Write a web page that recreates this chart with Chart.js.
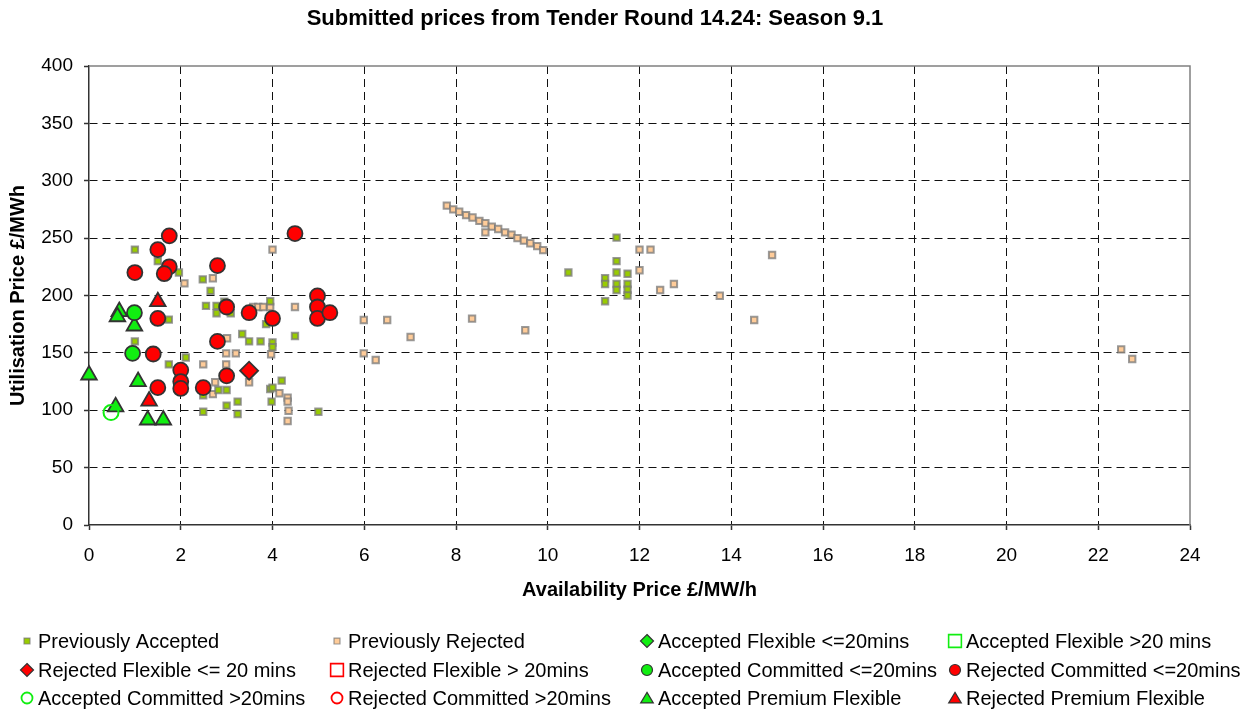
<!DOCTYPE html>
<html>
<head>
<meta charset="utf-8">
<script src="https://cdn.jsdelivr.net/npm/chart.js@4/dist/chart.umd.min.js"></script>
<style>
html,body{margin:0;padding:0;background:#fff;}
#wrap{width:1258px;height:713px;position:relative;}
</style>
</head>
<body>
<div id="wrap"><canvas id="c" width="1258" height="713"></canvas></div>
<script>
const FONT = "'Liberation Sans', Arial, Helvetica, sans-serif";

const titleText = 'Submitted prices from Tender Round 14.24: Season 9.1';
const xAxisTitle = 'Availability Price £/MW/h';
const yAxisTitle = 'Utilisation Price £/MWh';
const xTickValues = [0, 2, 4, 6, 8, 10, 12, 14, 16, 18, 20, 22, 24];
const yTickValues = [0, 50, 100, 150, 200, 250, 300, 350, 400];

const seriesNames = [
  'Previously Accepted', 'Previously Rejected', 'Accepted Flexible <=20mins', 'Accepted Flexible >20 mins',
  'Rejected Flexible <= 20 mins', 'Rejected Flexible > 20mins', 'Accepted Committed <=20mins', 'Rejected Committed <=20mins',
  'Accepted Committed >20mins', 'Rejected Committed >20mins', 'Accepted Premium Flexible', 'Rejected Premium Flexible'
];

const prevAccepted = [
  [1.0,240],[1.5,230],[1.96,220],[2.48,214],[2.65,204],[1.74,179],[1.0,160],[2.11,146],[1.74,140],
  [2.49,113],[2.82,117.6],[3.0,117.6],[3.0,104],[2.49,98.7],[2.55,191],[2.78,191],[2.78,184.5],[2.95,194.6],[3.09,184.5],
  [3.95,195],[3.86,175],[4.49,164.7],[3.34,166.4],[3.49,160],[3.74,160],[4.0,159],[4.0,155],[3.24,107.5],[3.24,96.7],
  [4.2,125.8],[3.95,118.5],[4.0,119.7],[3.98,107.5],[5.0,98.7],
  [10.45,220],[11.5,250.4],[11.5,230],[11.5,220],[11.74,219],[11.25,215],[11.25,210],[11.5,210],[11.5,204.8],
  [11.74,210],[11.74,205],[11.74,200],[11.25,195]
];
const prevRejected = [
  [2.08,210.6],[2.7,215],[4.0,240],[3.58,190],[3.69,190],[3.8,190],[3.95,190],[4.49,190],[3.01,162.7],[2.99,149.6],
  [3.2,149.6],[3.97,148.8],[2.49,140],[2.99,140],[3.49,124.4],[2.75,124.4],[2.7,114],[4.15,114.8],[4.33,111],[4.33,107.5],
  [4.35,99.6],[4.33,90.6],
  [5.99,178.6],[6.5,178.6],[7.01,163.8],[8.35,179.8],[9.51,169.7],[5.99,149.6],[6.25,143.8],
  [7.8,278.3],[7.94,275],[8.07,273],[8.22,270],[8.36,268],[8.51,265],[8.64,263],[8.78,260],[8.92,258],[9.07,255],
  [9.21,253],[9.34,250],[9.48,247.8],[9.62,245.5],[9.77,243],[9.9,239.6],[8.64,255],
  [12.0,240],[12.24,240],[14.89,235.3],[12.0,222],[12.45,204.8],[12.75,210],[13.75,199.8],[14.5,178.6],
  [22.5,153],[22.74,144.7]
];
const acceptedFlexibleLe20 = [];
const acceptedFlexibleGt20 = [];
const rejectedFlexibleLe20 = [[3.49,134.5]];
const rejectedFlexibleGt20 = [];
const acceptedCommittedLe20 = [[0.99,185],[0.95,149.6]];
const rejectedCommittedLe20 = [
  [1.75,252],[1.5,240],[1.75,225],[1.64,219],[1.0,220],[2.8,226],[1.5,180],[1.4,149],[1.5,119.7],
  [2.0,135],[2.0,125],[2.0,119],[2.49,119.7],[3.0,190],[2.8,160],[3.0,130],[4.49,254],[3.49,185],
  [4.0,180],[4.98,199.6],[4.98,190],[4.98,180],[5.25,185]
];
const acceptedCommittedGt20 = [[0.48,98]];
const rejectedCommittedGt20 = [];
const acceptedPremiumFlexible = [[0.66,186],[0.62,181.5],[0.99,173.4],[0,130.7],[1.07,125],[0.58,103],[1.28,91.5],[1.62,91.5]];
const rejectedPremiumFlexible = [[1.5,194.6],[1.31,108]];

const GREEN = '#11EE11', RED = '#FF0000', EDGE = '#333333';
const SQ_EDGE = 'rgba(120,120,120,0.75)';

function pts(arr){ return arr.map(p => ({x: p[0], y: p[1]})); }

const styles = [
  {data: prevAccepted, pointStyle:'rect', bg:'#99CC00', bc:SQ_EDGE, r:4.5, bw:2, order:20, lr:3.5, lbw:1.2},
  {data: prevRejected, pointStyle:'rect', bg:'#FFCC99', bc:SQ_EDGE, r:4.5, bw:2, order:20, lr:3.5, lbw:1.2},
  {data: acceptedFlexibleLe20, pointStyle:'rectRot', bg:GREEN, bc:EDGE, r:8.5, bw:1.5, order:5, lr:6.5, lbw:1.2},
  {data: acceptedFlexibleGt20, pointStyle:'rect', bg:'rgba(0,0,0,0)', bc:GREEN, r:8, bw:1.8, order:5, lr:7.5, lbw:1.6},
  {data: rejectedFlexibleLe20, pointStyle:'rectRot', bg:RED, bc:EDGE, r:9, bw:1.8, order:5, lr:6.5, lbw:1.2},
  {data: rejectedFlexibleGt20, pointStyle:'rect', bg:'rgba(0,0,0,0)', bc:RED, r:8, bw:1.8, order:5, lr:7.5, lbw:1.6},
  {data: acceptedCommittedLe20, pointStyle:'circle', bg:GREEN, bc:EDGE, r:7.5, bw:1.8, order:5, lr:5.5, lbw:1.2},
  {data: rejectedCommittedLe20, pointStyle:'circle', bg:RED, bc:EDGE, r:7.5, bw:1.8, order:5, lr:5.5, lbw:1.2},
  {data: acceptedCommittedGt20, pointStyle:'circle', bg:'rgba(0,0,0,0)', bc:GREEN, r:7.5, bw:2, order:5, lr:5.5, lbw:1.8},
  {data: rejectedCommittedGt20, pointStyle:'circle', bg:'rgba(0,0,0,0)', bc:RED, r:7.5, bw:2, order:5, lr:5.5, lbw:1.8},
  {data: acceptedPremiumFlexible, pointStyle:'triangle', bg:GREEN, bc:EDGE, r:9, bw:1.8, order:5, lr:7, lbw:1.2},
  {data: rejectedPremiumFlexible, pointStyle:'triangle', bg:RED, bc:EDGE, r:9, bw:1.8, order:5, lr:7, lbw:1.2}
];

const datasets = styles.map((s, i) => ({
  label: seriesNames[i],
  data: pts(s.data),
  showLine: false,
  clip: false,
  pointStyle: s.pointStyle,
  pointRadius: s.r,
  pointHoverRadius: s.r,
  pointBackgroundColor: s.bg,
  pointBorderColor: s.bc,
  pointBorderWidth: s.bw,
  backgroundColor: s.bg,
  borderColor: s.bc,
  order: s.order
}));

function drawMarker(ctx, style, x, y, r, fill, stroke, bw){
  ctx.save();
  ctx.beginPath();
  if (style === 'circle') {
    ctx.arc(x, y, r, 0, Math.PI*2);
  } else if (style === 'rect') {
    const h = r*0.85;
    ctx.rect(x-h, y-h, 2*h, 2*h);
  } else if (style === 'rectRot') {
    ctx.moveTo(x, y-r); ctx.lineTo(x+r, y); ctx.lineTo(x, y+r); ctx.lineTo(x-r, y); ctx.closePath();
  } else if (style === 'triangle') {
    const w = r*0.9;
    ctx.moveTo(x, y-r*0.8); ctx.lineTo(x+w, y+r*0.7); ctx.lineTo(x-w, y+r*0.7); ctx.closePath();
  }
  ctx.fillStyle = fill; ctx.fill();
  ctx.lineWidth = bw; ctx.strokeStyle = stroke; ctx.stroke();
  ctx.restore();
}

const legendCols = [27, 337, 647, 955];
const legendRows = [641, 670, 698];

const customLegend = {
  id: 'customLegend',
  afterDraw(chart){
    const ctx = chart.ctx;
    ctx.save();
    ctx.font = '20px ' + FONT;
    ctx.fillStyle = '#000';
    ctx.textBaseline = 'middle';
    ctx.textAlign = 'left';
    styles.forEach((s, i) => {
      const x = legendCols[i % 4], y = legendRows[Math.floor(i / 4)];
      drawMarker(ctx, s.pointStyle, x, y, s.lr, s.bg, s.bc, s.lbw);
      ctx.fillText(seriesNames[i], x + 11, y + 1);
    });
    ctx.restore();
  }
};

const plotFrame = {
  id: 'plotFrame',
  beforeDatasetsDraw(chart){
    const {ctx, chartArea: a} = chart;
    ctx.save();
    ctx.strokeStyle = '#808080';
    ctx.lineWidth = 1.5;
    ctx.beginPath();
    ctx.moveTo(a.left, a.top); ctx.lineTo(a.right, a.top); ctx.lineTo(a.right, a.bottom);
    ctx.stroke();
    ctx.restore();
  }
};

new Chart(document.getElementById('c'), {
  type: 'scatter',
  data: { datasets },
  options: {
    responsive: false,
    animation: false,
    devicePixelRatio: 1,
    layout: { padding: { left: 0, right: 68, top: 0, bottom: 110 } },
    plugins: {
      legend: { display: false },
      tooltip: { enabled: false },
      title: {
        display: true, text: titleText, color: '#000',
        font: { family: FONT, size: 22, weight: 'bold' },
        padding: { top: 6, bottom: 33.6 }
      }
    },
    scales: {
      x: {
        type: 'linear', min: 0, max: 24,
        afterBuildTicks: s => { s.ticks = xTickValues.map(v => ({ value: v })); },
        afterFit: s => { s.height = 78; },
        ticks: { color: '#000', font: { family: FONT, size: 19 }, padding: 14, maxRotation: 0 },
        grid: {
          color: c => (c.tick && (c.tick.value === 0 || c.tick.value === 24)) ? 'rgba(0,0,0,0)' : '#111',
          lineWidth: 1, tickLength: 5, tickColor: '#333', tickWidth: 1.5
        },
        border: { display: true, color: '#333', width: 1.5, dash: [8, 5] },
        title: { display: true, text: xAxisTitle, color: '#000', font: { family: FONT, size: 20, weight: 'bold' }, padding: { top: 0, bottom: 1 } }
      },
      y: {
        type: 'linear', min: 0, max: 400,
        afterBuildTicks: s => { s.ticks = yTickValues.map(v => ({ value: v })); },
        afterFit: s => { s.width = 89; },
        ticks: { color: '#000', font: { family: FONT, size: 19 }, padding: 11 },
        grid: {
          color: c => (c.tick && (c.tick.value === 0 || c.tick.value === 400)) ? 'rgba(0,0,0,0)' : '#111',
          lineWidth: 1, tickLength: 5, tickColor: '#333', tickWidth: 1.5
        },
        border: { display: true, color: '#333', width: 1.5, dash: [8, 5] },
        title: { display: true, text: yAxisTitle, color: '#000', font: { family: FONT, size: 20, weight: 'bold' }, padding: { top: 6, bottom: 0 } }
      }
    }
  },
  plugins: [plotFrame, customLegend]
});
</script>
</body>
</html>
